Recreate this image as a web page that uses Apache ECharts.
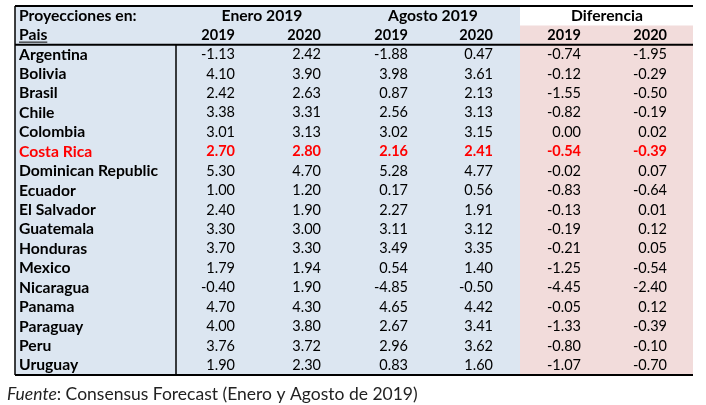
<!DOCTYPE html>
<html><head><meta charset="utf-8">
<script src="https://cdn.jsdelivr.net/npm/echarts@6/dist/echarts.min.js"></script>
<style>html,body{margin:0;padding:0;background:#fff}#c{width:706px;height:405px}</style>
</head><body><div id="c"></div>
<script>
// ---- data ----
const groupHeaders = ['Proyecciones en:', 'Enero 2019', 'Agosto 2019', 'Diferencia'];
const yearHeaders = ['Pais', '2019', '2020', '2019', '2020', '2019', '2020'];
const countries = ['Argentina','Bolivia','Brasil','Chile','Colombia','Costa Rica','Dominican Republic','Ecuador','El Salvador','Guatemala','Honduras','Mexico','Nicaragua','Panama','Paraguay','Peru','Uruguay'];
const enero2019 = [-1.13, 4.10, 2.42, 3.38, 3.01, 2.70, 5.30, 1.00, 2.40, 3.30, 3.70, 1.79, -0.40, 4.70, 4.00, 3.76, 1.90];
const enero2020 = [2.42, 3.90, 2.63, 3.31, 3.13, 2.80, 4.70, 1.20, 1.90, 3.00, 3.30, 1.94, 1.90, 4.30, 3.80, 3.72, 2.30];
const agosto2019 = [-1.88, 3.98, 0.87, 2.56, 3.02, 2.16, 5.28, 0.17, 2.27, 3.11, 3.49, 0.54, -4.85, 4.65, 2.67, 2.96, 0.83];
const agosto2020 = [0.47, 3.61, 2.13, 3.13, 3.15, 2.41, 4.77, 0.56, 1.91, 3.12, 3.35, 1.40, -0.50, 4.42, 3.41, 3.62, 1.60];
const dif2019 = [-0.74, -0.12, -1.55, -0.82, 0.00, -0.54, -0.02, -0.83, -0.13, -0.19, -0.21, -1.25, -4.45, -0.05, -1.33, -0.80, -1.07];
const dif2020 = [-1.95, -0.29, -0.50, -0.19, 0.02, -0.39, 0.07, -0.64, 0.01, 0.12, 0.05, -0.54, -2.40, 0.12, -0.39, -0.10, -0.70];
const highlightCountry = 'Costa Rica';
const sourceItalic = 'Fuente';
const sourceRest = ': Consensus Forecast (Enero y Agosto de 2019)';

// ---- layout (x in grid units = px, y in row units) ----
const FONT = 'Lato, "Open Sans", sans-serif';
const LABEL_FS = 15.7, NUM_FS = 14.5;
const tableLeft = 15, tableRight = 693, blueRight = 520, labelSep = 176, labelX = 19;
const colRight = [235, 321, 408, 493, 581, 667];
const groupCenter = [262, 433, 607];
const nRows = countries.length + 2;
const seriesCols = [enero2019, enero2020, agosto2019, agosto2020, dif2019, dif2020];

// build cells
const cells = [];
cells.push({x: labelX, r: 0, text: groupHeaders[0], align: 'left', bold: true, color: '#000', fs: LABEL_FS});
groupHeaders.slice(1).forEach((h, i) => cells.push({x: groupCenter[i], r: 0, text: h, align: 'center', bold: true, color: '#000', fs: LABEL_FS}));
cells.push({x: labelX, r: 1, text: yearHeaders[0], align: 'left', bold: true, color: '#000', underline: true, fs: LABEL_FS});
yearHeaders.slice(1).forEach((h, i) => cells.push({x: colRight[i], r: 1, text: h, align: 'right', bold: true, color: '#000', fs: NUM_FS}));
countries.forEach((c, i) => {
  const hl = c === highlightCountry;
  const col = hl ? '#ff0000' : '#000';
  cells.push({x: labelX, r: i + 2, text: c, align: 'left', bold: true, color: col, fs: LABEL_FS});
  seriesCols.forEach((arr, j) => cells.push({x: colRight[j], r: i + 2, text: arr[i].toFixed(2), align: 'right', bold: hl, color: col, fs: NUM_FS}));
});

const rects = [
  {x0: tableLeft, x1: blueRight, r0: 0, r1: nRows, color: '#dce6f1'},
  {x0: blueRight, x1: tableRight, r0: 1, r1: nRows, color: '#f2dcdb'}
];
const lines = [
  {x0: tableLeft, x1: tableRight, r0: 0, r1: 0, w: 2},
  {x0: tableLeft, x1: tableRight, r0: 2, r1: 2, w: 2},
  {x0: tableLeft, x1: tableRight, r0: nRows, r1: nRows, w: 2},
  {x0: tableLeft, x1: tableLeft, r0: 0, r1: nRows, w: 1.5},
  {x0: labelSep, x1: labelSep, r0: 2, r1: nRows, w: 1.5}
];

const chart = echarts.init(document.getElementById('c'), null, {renderer: 'canvas'});
chart.setOption({
  animation: false,
  title: {
    left: 7, top: 385, padding: 0,
    text: '{i|' + sourceItalic + '}' + sourceRest,
    textStyle: {fontFamily: FONT, fontSize: 17.5, fontWeight: 'normal', color: '#222',
      rich: {i: {fontFamily: FONT, fontSize: 17.5, fontStyle: 'italic', color: '#222'}}}
  },
  grid: {left: 0, right: 0, top: 6, bottom: 30},
  xAxis: {type: 'value', min: 0, max: 706, show: false},
  yAxis: {type: 'value', min: 0, max: nRows, inverse: true, show: false},
  series: [
    {
      type: 'custom', silent: true, z: 1,
      data: rects.map((d, i) => [d.x0, d.r0, d.x1, d.r1, i]),
      renderItem: (params, api) => {
        const d = rects[api.value(4)];
        const p0 = api.coord([d.x0, d.r0]), p1 = api.coord([d.x1, d.r1]);
        return {type: 'rect', shape: {x: p0[0], y: p0[1], width: p1[0] - p0[0], height: p1[1] - p0[1]}, style: {fill: d.color}};
      }
    },
    {
      type: 'custom', silent: true, z: 3,
      data: lines.map((d, i) => [d.x0, d.r0, d.x1, d.r1, i]),
      renderItem: (params, api) => {
        const d = lines[api.value(4)];
        const p0 = api.coord([d.x0, d.r0]), p1 = api.coord([d.x1, d.r1]);
        return {type: 'line', shape: {x1: p0[0], y1: p0[1], x2: p1[0], y2: p1[1]}, style: {stroke: '#000', lineWidth: d.w}};
      }
    },
    {
      type: 'custom', silent: true, z: 2,
      data: cells.map((d, i) => [d.x, d.r + 0.5, i]),
      renderItem: (params, api) => {
        const d = cells[api.value(2)];
        const p = api.coord([d.x, d.r + 0.5]);
        const font = (d.bold ? 'bold ' : '') + d.fs + 'px ' + FONT;
        const children = [{type: 'text', x: p[0], y: p[1], style: {text: d.text, font: font, fill: d.color, align: d.align, verticalAlign: 'middle'}}];
        if (d.underline) {
          const w = echarts.format.getTextRect ? echarts.format.getTextRect(d.text, font).width : 28;
          children.push({type: 'line', shape: {x1: p[0], y1: p[1] + 7, x2: p[0] + w, y2: p[1] + 7}, style: {stroke: d.color, lineWidth: 1}});
        }
        return {type: 'group', children: children};
      }
    }
  ]
});
</script></body></html>
